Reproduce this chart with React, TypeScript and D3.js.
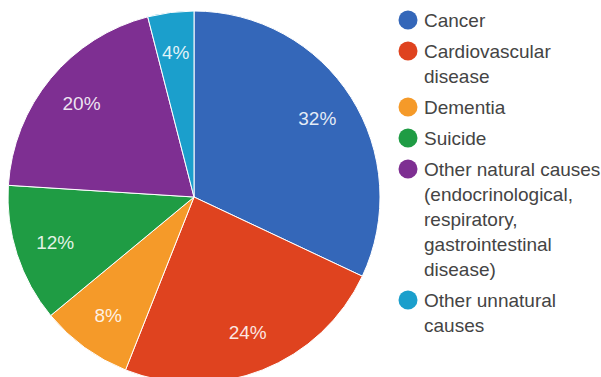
import React from "react";
import * as d3 from "d3";

// Causes of death, share of total (%)
const categories = [
  "Cancer",
  "Cardiovascular disease",
  "Dementia",
  "Suicide",
  "Other natural causes (endocrinological, respiratory, gastrointestinal disease)",
  "Other unnatural causes",
];
const values = [32, 24, 8, 12, 20, 4];
// Legend labels broken into display lines
const legendLines = [
  ["Cancer"],
  ["Cardiovascular", "disease"],
  ["Dementia"],
  ["Suicide"],
  ["Other natural causes", "(endocrinological,", "respiratory,", "gastrointestinal", "disease)"],
  ["Other unnatural", "causes"],
];
const colors = ["#3467b9", "#df431f", "#f59a29", "#1f9c44", "#7e2f92", "#1b9fcc"];

const W = 601;
const H = 377;
const cx = 194;
const cy = 197;
const R = 186;
const labelR = 146;
const font = "'Liberation Sans', Arial, sans-serif";

export default function App() {
  const pie = d3
    .pie<number>()
    .sort(null)
    .value((d) => d);
  const arcs = pie(values);
  const arc = d3.arc<d3.PieArcDatum<number>>().innerRadius(0).outerRadius(R);
  const labelArc = d3
    .arc<d3.PieArcDatum<number>>()
    .innerRadius(labelR)
    .outerRadius(labelR);
  const total = d3.sum(values);

  // legend layout
  const legendX = 408;
  const textX = 424;
  const lineH = 25;
  const itemGap = 31;
  let y = 20;
  const legendItems = legendLines.map((lines, i) => {
    const y0 = y;
    y += (lines.length - 1) * lineH + itemGap;
    return { lines, y0, i };
  });

  return (
    <div style={{ position: "absolute", left: 0, top: 0 }}>
      <svg width={W} height={H} style={{ display: "block", background: "#fff" }}>
        <g transform={`translate(${cx},${cy})`}>
          {arcs.map((a, i) => (
            <path
              key={categories[i]}
              d={arc(a) || ""}
              fill={colors[i]}
              stroke="#ffffff"
              strokeWidth={1}
            />
          ))}
          {arcs.map((a, i) => {
            const [x, yy] = labelArc.centroid(a);
            return (
              <text
                key={"l" + i}
                x={x}
                y={yy}
                textAnchor="middle"
                dominantBaseline="central"
                fill="#ffffff"
                fillOpacity={0.88}
                fontFamily={font}
                fontSize={19}
              >
                {Math.round((values[i] / total) * 100)}%
              </text>
            );
          })}
        </g>
        <g>
          {legendItems.map(({ lines, y0, i }) => (
            <g key={"lg" + i}>
              <circle cx={legendX} cy={y0} r={9.5} fill={colors[i]} />
              {lines.map((t, j) => (
                <text
                  key={j}
                  x={textX}
                  y={y0 + j * lineH}
                  dominantBaseline="central"
                  fill="#444444"
                  fontFamily={font}
                  fontSize={19}
                >
                  {t}
                </text>
              ))}
            </g>
          ))}
        </g>
      </svg>
    </div>
  );
}
